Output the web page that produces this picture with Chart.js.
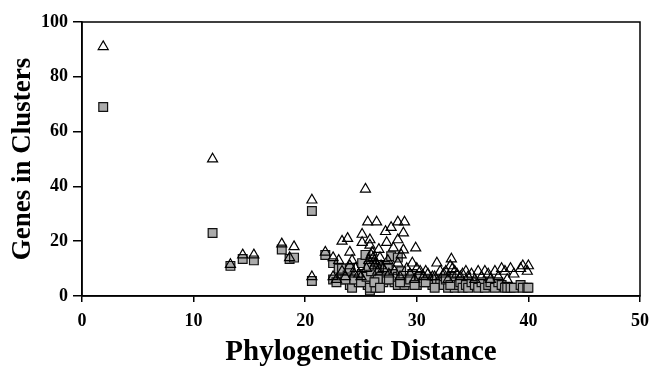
<!DOCTYPE html>
<html>
<head>
<meta charset="utf-8">
<script src="https://cdn.jsdelivr.net/npm/chart.js@4"></script>
<style>
html,body{margin:0;padding:0;background:#fff;}
#wrap{width:651px;height:367px;position:relative;}
</style>
</head>
<body>
<div id="wrap"><canvas id="c" width="651" height="367"></canvas></div>
<script>
// Phylogenetic distance of each genome pair
const distance = [1.9,11.7,13.3,14.4,15.4,17.9,18.6,19.0,20.6,20.6,21.8,22.5,22.5,23.0,23.3,23.3,23.8,24.0,24.0,24.2,24.5,24.8,25.1,25.1,25.4,25.6,25.8,25.8,26.0,26.1,26.2,26.3,26.4,26.6,26.8,27.0,27.2,27.3,27.4,27.7,27.9,28.0,28.3,28.3,28.3,28.6,28.8,28.8,28.9,29.1,29.6,29.9,30.0,30.3,30.6,31.0,31.4,31.8,32.1,32.4,32.8,33.1,33.2,33.4,33.6,33.9,34.1,34.4,34.6,34.9,35.2,35.5,35.8,36.1,36.4,36.6,37.0,37.3,37.6,37.9,38.1,38.4,38.7,39.3,39.5,39.9,40.0,22.8,23.6,24.4,25.0,25.5,26.5,27.5,28.5,29.4,29.8,30.8,31.6,32.6,33.0,25.9,26.2,26.7,25.7];
// Genes in clusters (triangles)
const triangleGenes = [91,50,11.5,15,15,19,14,18,35,7,16,14,7,13,20,9,21,16,11,13,10,8,22.5,19.5,39,27,20.5,18.5,16,14,13,12,27,17,11,10,23.5,19.5,13,25,17.5,9,27,20.5,12,15,23,16.8,27,10,12,17.5,10,9,7,8,7,12,9,8,6,13.5,10,9,8,7,8,9,7,8,6,9,7,9,8,6,9,7,10,9,6,10,8,10,11,9,11,6,7,8,7,10,9,8,7,8,6,9,7,9,11,15,11,14,13];
// Genes in clusters (squares)
const squareGenes = [69,23,11,13.5,13,17,13.5,14,31,5.5,15,12,6,10,10,6,7.5,10,4,3,6,5,12,8,15,4,2,3,12,8,6,3,5,10,7,5,11,6,10,14.5,8,5,14,4,7,9,5,6,4,5,8,6,4,7,5,6,4,6,5,4,3,7,5,3,4,5,3,4,3,5,4,3,5,3,4,5,3,5,4,3,3,3,3,4,3,3,3,5,6,6,5,7,6,6,5,6,4,5,3,6,4,9,5,3,11];
const xTicks = [0,10,20,30,40,50];
const yTicks = [0,20,40,60,80,100];

const triPts = distance.map((d,i)=>({x:d,y:triangleGenes[i]}));
const sqPts = distance.map((d,i)=>({x:d,y:squareGenes[i]}));

const serif = '"Liberation Serif","Times New Roman",serif';

const frame = {
  id:'frame',
  afterDatasetsDraw(chart){
    const a = chart.chartArea, ctx = chart.ctx;
    ctx.save();
    ctx.strokeStyle='#000';
    ctx.lineWidth=1.5;
    ctx.strokeRect(a.left, a.top, a.right-a.left, a.bottom-a.top);
    ctx.restore();
  }
};

new Chart(document.getElementById('c'), {
  type:'scatter',
  data:{datasets:[
    {label:'triangles', data:triPts, pointStyle:'triangle', pointRadius:5.8, pointHoverRadius:5.8,
     backgroundColor:'rgba(255,255,255,0)', borderColor:'#000', borderWidth:1.2},
    {label:'squares', data:sqPts, pointStyle:'rect', pointRadius:6.2, pointHoverRadius:6.2,
     backgroundColor:'#ababab', borderColor:'#111', borderWidth:1.2}
  ]},
  options:{
    responsive:false, animation:false,
    layout:{padding:{left:0,right:11,top:22,bottom:0}},
    plugins:{legend:{display:false},tooltip:{enabled:false}},
    scales:{
      x:{type:'linear', min:0, max:50,
        afterBuildTicks(s){ s.ticks = xTicks.map(v=>({value:v})); },
        afterFit(s){ s.height = 71; s.paddingRight = 0; s.paddingLeft = 0; },
        grid:{drawOnChartArea:false, drawTicks:true, tickLength:6, color:'#000', lineWidth:1.5},
        border:{color:'#000', width:1.5},
        ticks:{color:'#000', font:{family:serif, size:18, weight:'bold'}, padding:9, maxRotation:0},
        title:{display:true, text:'Phylogenetic Distance', color:'#000', font:{family:serif, size:29, weight:'bold', lineHeight:1.0}, padding:{top:0,bottom:0}}
      },
      y:{type:'linear', min:0, max:100,
        afterBuildTicks(s){ s.ticks = yTicks.map(v=>({value:v})); },
        afterFit(s){ s.width = 82; },
        grid:{drawOnChartArea:false, drawTicks:true, tickLength:9, color:'#000', lineWidth:1.5},
        border:{color:'#000', width:1.5},
        ticks:{color:'#000', font:{family:serif, size:18, weight:'bold'}, padding:5},
        title:{display:true, text:'Genes in Clusters', color:'#000', font:{family:serif, size:27, weight:'bold'}, padding:{top:7,bottom:4}}
      }
    }
  },
  plugins:[frame]
});
</script>
</body>
</html>
